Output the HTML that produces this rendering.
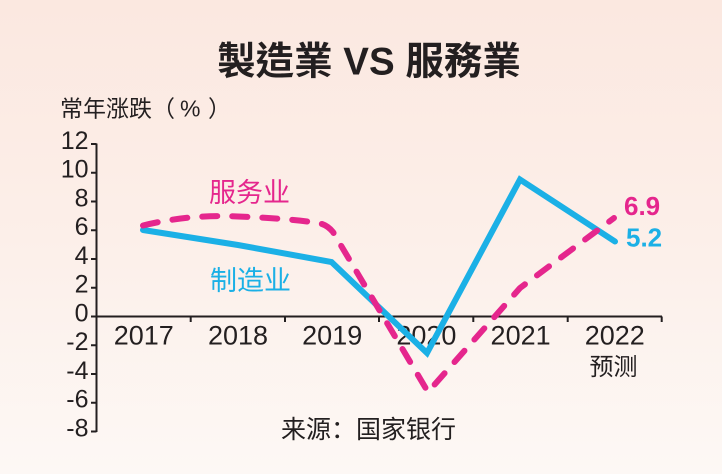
<!DOCTYPE html>
<html><head><meta charset="utf-8">
<style>
html,body{margin:0;padding:0;}
body{width:722px;height:474px;overflow:hidden;background:linear-gradient(to bottom,#fbe8e0 0%,#fcefe9 50%,#fdf8f5 100%);}
svg{display:block;}
text{font-family:"Liberation Sans","Noto Sans CJK SC",sans-serif;fill:#231f20;}
</style></head>
<body>
<svg width="722" height="474" viewBox="0 0 722 474" xmlns="http://www.w3.org/2000/svg">
  <!-- Title -->
  <text x="369" y="74.5" text-anchor="middle" font-size="38.5" font-weight="700" style="font-family:'Liberation Sans','Noto Sans CJK TC',sans-serif">製造業 VS 服務業</text>
  <!-- Y title -->
  <text x="60" y="116.5" font-size="23">常年涨跌（</text>
  <text x="180" y="116.5" font-size="23">%</text>
  <text x="208" y="116.5" font-size="23">）</text>

  <!-- Axes -->
  <g stroke="#231f20" stroke-width="2" fill="none">
    <line x1="96.5" y1="143.5" x2="96.5" y2="432"/>
    <line x1="96.5" y1="316.5" x2="662" y2="316.5"/>
    <line x1="91" y1="144" x2="96.5" y2="144"/>
    <line x1="91" y1="172.75" x2="96.5" y2="172.75"/>
    <line x1="91" y1="201.5" x2="96.5" y2="201.5"/>
    <line x1="91" y1="230.25" x2="96.5" y2="230.25"/>
    <line x1="91" y1="259" x2="96.5" y2="259"/>
    <line x1="91" y1="287.75" x2="96.5" y2="287.75"/>
    <line x1="91" y1="316.5" x2="96.5" y2="316.5"/>
    <line x1="91" y1="345.25" x2="96.5" y2="345.25"/>
    <line x1="91" y1="374" x2="96.5" y2="374"/>
    <line x1="91" y1="402.75" x2="96.5" y2="402.75"/>
    <line x1="91" y1="431.5" x2="96.5" y2="431.5"/>
    <line x1="190.7" y1="316.5" x2="190.7" y2="322"/>
    <line x1="285" y1="316.5" x2="285" y2="322"/>
    <line x1="379" y1="316.5" x2="379" y2="322"/>
    <line x1="473.3" y1="316.5" x2="473.3" y2="322"/>
    <line x1="567.7" y1="316.5" x2="567.7" y2="322"/>
    <line x1="661.7" y1="316.5" x2="661.7" y2="322"/>
  </g>

  <!-- Y labels -->
  <g font-size="25" text-anchor="end">
    <text x="88.5" y="149">12</text>
    <text x="88.5" y="177.5">10</text>
    <text x="88.5" y="206.3">8</text>
    <text x="88.5" y="235">6</text>
    <text x="88.5" y="263.8">4</text>
    <text x="88.5" y="292.5">2</text>
    <text x="88.5" y="321.3">0</text>
    <text x="88.5" y="350">-2</text>
    <text x="88.5" y="378.8">-4</text>
    <text x="88.5" y="407.5">-6</text>
    <text x="88.5" y="436.3">-8</text>
  </g>

  <!-- X labels -->
  <g font-size="27" text-anchor="middle">
    <text x="143.8" y="344.3">2017</text>
    <text x="238" y="344.3">2018</text>
    <text x="332.2" y="344.3">2019</text>
    <text x="426.4" y="344.3">2020</text>
    <text x="520.6" y="344.3">2021</text>
    <text x="614.8" y="344.3">2022</text>
  </g>
  <text x="589.5" y="375" font-size="24">预测</text>

  <!-- Manufacturing (blue solid) -->
  <polyline points="143,230 238,245 331.5,262 427,353 520,179.5 615,241.5" fill="none" stroke="#1bb0e6" stroke-width="6" stroke-linejoin="miter" stroke-linecap="round"/>

  <!-- Services (magenta dashed) -->
  <path d="M143,225.5 Q190,214 238,216.5 Q300,219 322,224 Q328,226 333,232 L428,392 L520,288 L614,218" fill="none" stroke="#e5268d" stroke-width="6" stroke-dasharray="15 15" stroke-linecap="round" stroke-linejoin="round"/>

  <!-- Series labels -->
  <text x="209" y="202" font-size="27" style="fill:#e5268d">服务业</text>
  <text x="210" y="290" font-size="27" style="fill:#1bb0e6">制造业</text>
  <text x="624" y="215" font-size="26" font-weight="700" style="fill:#e5268d">6.9</text>
  <text x="626" y="246.5" font-size="26" font-weight="700" style="fill:#1bb0e6">5.2</text>

  <!-- Source -->
  <text x="281" y="438" font-size="25">来源：国家银行</text>
</svg>
</body></html>
